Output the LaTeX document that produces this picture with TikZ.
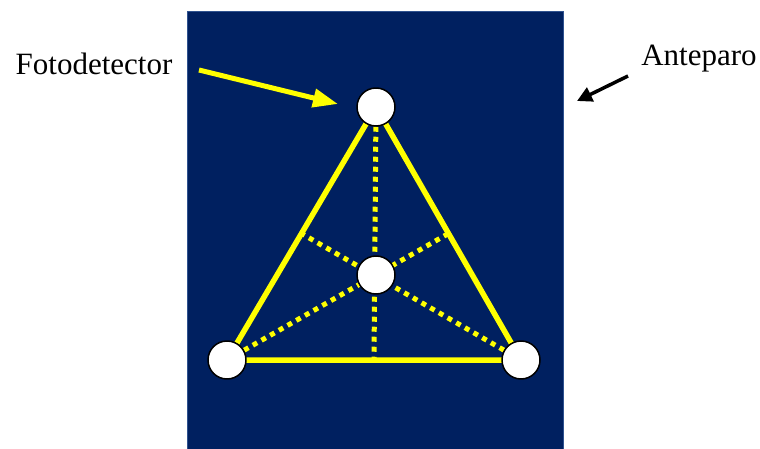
\documentclass[tikz,border=0pt]{standalone}
\usepackage{fontspec}
\setmainfont{Liberation Serif}
\usepackage{tikz,pgf}
\usetikzlibrary{arrows.meta}
\usetikzlibrary{calc}
\usetikzlibrary{backgrounds}
\usetikzlibrary{positioning}
\definecolor{screenblue}{RGB}{0,32,96}
\definecolor{screenedge}{RGB}{47,82,143}
\definecolor{lightyellow}{RGB}{255,255,0}
\tikzset{
  det/.style={circle,draw=black,line width=1.5pt,fill=white,minimum size=38pt,inner sep=0pt},
  edge/.style={color=lightyellow,line width=5.5pt},
  median/.style={color=lightyellow,line width=5pt,line cap=butt,dash pattern=on 5pt off 5pt},
  label/.style={font=\fontsize{31}{36}\selectfont,anchor=base}
}

\begin{document}
\begin{tikzpicture}[x=1pt,y=-1pt,line join=round]
      \useasboundingbox (0,0) rectangle (760,449);
      % photodetectors
      \node[det] (top) at (376,107) {};
      \node[det] (mid) at (376,275) {};
      \node[det] (left) at (227,360) {};
      \node[det] (right) at (521,360) {};
      \coordinate (mleft) at ($(top)!0.5!(left)$);
      \coordinate (mright) at ($(top)!0.5!(right)$);
      \coordinate (mbase) at ($(left)!0.5!(right)$);
      \begin{scope}[on background layer]
      \draw[color=screenedge,fill=screenblue,line width=1pt] (187,12) rectangle (563,452);
      \draw[median] (top) -- (mbase);
      \draw[median] (left) -- (mright);
      \draw[median] (right) -- (mleft);
      \draw[edge] (top.center) -- (left.center) -- (right.center) -- cycle;
      \end{scope}
      % labels
      \node[label] (foto) at (94,74.5) {Fotodetector};
      \node[label] (ante) at (699,66) {Anteparo};
      \coordinate (fototail) at (199,70);
      \coordinate (fotohead) at (338,104);
      \draw[-{Triangle[length=25pt,width=18pt]},color=lightyellow,line width=5pt] (fototail) -- (fotohead);
      \coordinate (antetail) at (628,76);
      \coordinate (antehead) at (577,101);
      \draw[-{Triangle[length=15pt,width=15pt]},color=black,line width=3.5pt] (antetail) -- (antehead);
    \end{tikzpicture}
\end{document}
